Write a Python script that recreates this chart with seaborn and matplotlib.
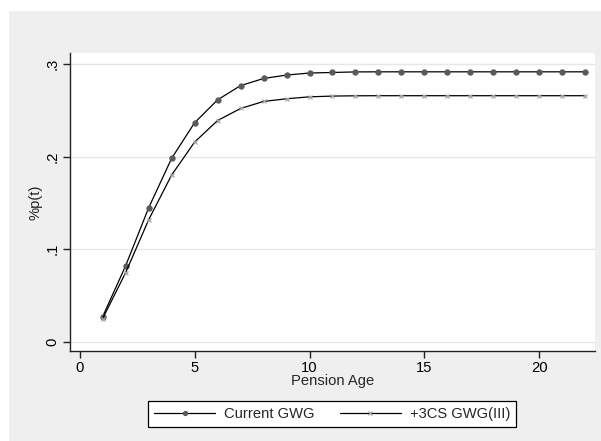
import matplotlib
matplotlib.use("Agg")
import matplotlib.pyplot as plt
import seaborn as sns
import pandas as pd
from matplotlib.patches import Rectangle

age = list(range(1, 23))
current_gwg = [0.027, 0.082, 0.1445, 0.198, 0.2365, 0.2612, 0.2766, 0.2843, 0.288, 0.2902, 0.2908,
               0.2914, 0.2915, 0.2915, 0.2915, 0.2915, 0.2915, 0.2915, 0.2915, 0.2915, 0.2915, 0.2915]
cs_gwg3 = [0.025, 0.0746, 0.1316, 0.180, 0.2156, 0.2389, 0.2519, 0.2595, 0.2624, 0.2645, 0.2653,
           0.2656, 0.2657, 0.2657, 0.2657, 0.2657, 0.2657, 0.2657, 0.2657, 0.2657, 0.2657, 0.2657]
labels = ["Current GWG", "+3CS GWG(III)"]
xticks = [0, 5, 10, 15, 20]
yticks = [0, 0.1, 0.2, 0.3]
yticklabels = ["0", ".1", ".2", ".3"]

df1 = pd.DataFrame({"age": age, "p": current_gwg})
df2 = pd.DataFrame({"age": age, "p": cs_gwg3})

sns.set_theme(style="white")
plt.rcParams["font.family"] = ["Liberation Sans", "DejaVu Sans"]

FS = 10.6

fig = plt.figure(figsize=(6.01, 4.41), dpi=100)
fig.patch.set_facecolor("white")
fig.patches.append(Rectangle((9 / 601, 0), 1, 1 - 11 / 441, transform=fig.transFigure,
                             facecolor="#efefef", edgecolor="none", zorder=-10))

ax = fig.add_axes([70 / 601, 1 - 351 / 441, (595 - 70) / 601, (351 - 53.3) / 441])
ax.set_facecolor("white")

sns.lineplot(data=df1, x="age", y="p", ax=ax, color="black", linewidth=0.9,
             marker="o", markersize=3.8, markerfacecolor="#5a5a5a", markeredgecolor="#5a5a5a",
             label=labels[0])
sns.lineplot(data=df2, x="age", y="p", ax=ax, color="black", linewidth=0.9,
             marker="x", markersize=3.2, markeredgecolor="#a8a8a8", markeredgewidth=0.9,
             label=labels[1])

ax.set_xlim(-0.42, 22.42)
ax.set_ylim(-0.01, 0.3115)
ax.set_xticks(xticks)
ax.set_xticklabels([str(t) for t in xticks])
ax.set_yticks(yticks)
ax.set_yticklabels(yticklabels, rotation=90, va="center")
ax.yaxis.grid(True, color="#e6e6e6", linewidth=1.0)
ax.xaxis.grid(False)
ax.set_axisbelow(True)

for s in ["top", "right"]:
    ax.spines[s].set_visible(False)
for s in ["left", "bottom"]:
    ax.spines[s].set_visible(True)
    ax.spines[s].set_color("#222222")
    ax.spines[s].set_linewidth(1.0)

ax.tick_params(axis="both", which="major", direction="out", length=5, width=1,
               color="#222222", labelsize=FS, labelcolor="black", pad=2.5,
               bottom=True, left=True)
ax.set_xlabel("Pension Age", fontsize=FS, labelpad=-1)
ax.set_ylabel("%p(t)", fontsize=FS, labelpad=2)

leg_handles, leg_labels = ax.get_legend_handles_labels()
ax.get_legend().remove()
leg = fig.legend(leg_handles, leg_labels, loc="center",
                 bbox_to_anchor=(332 / 601, 1 - 414 / 441), ncol=2, frameon=True,
                 fancybox=False, edgecolor="black", facecolor="white", framealpha=1,
                 fontsize=FS, handlelength=4.15, handletextpad=0.6, columnspacing=1.7,
                 borderpad=0.4, borderaxespad=0, markerscale=0.8)
leg.get_frame().set_linewidth(0.9)

fig.savefig("out.png", dpi=100)
